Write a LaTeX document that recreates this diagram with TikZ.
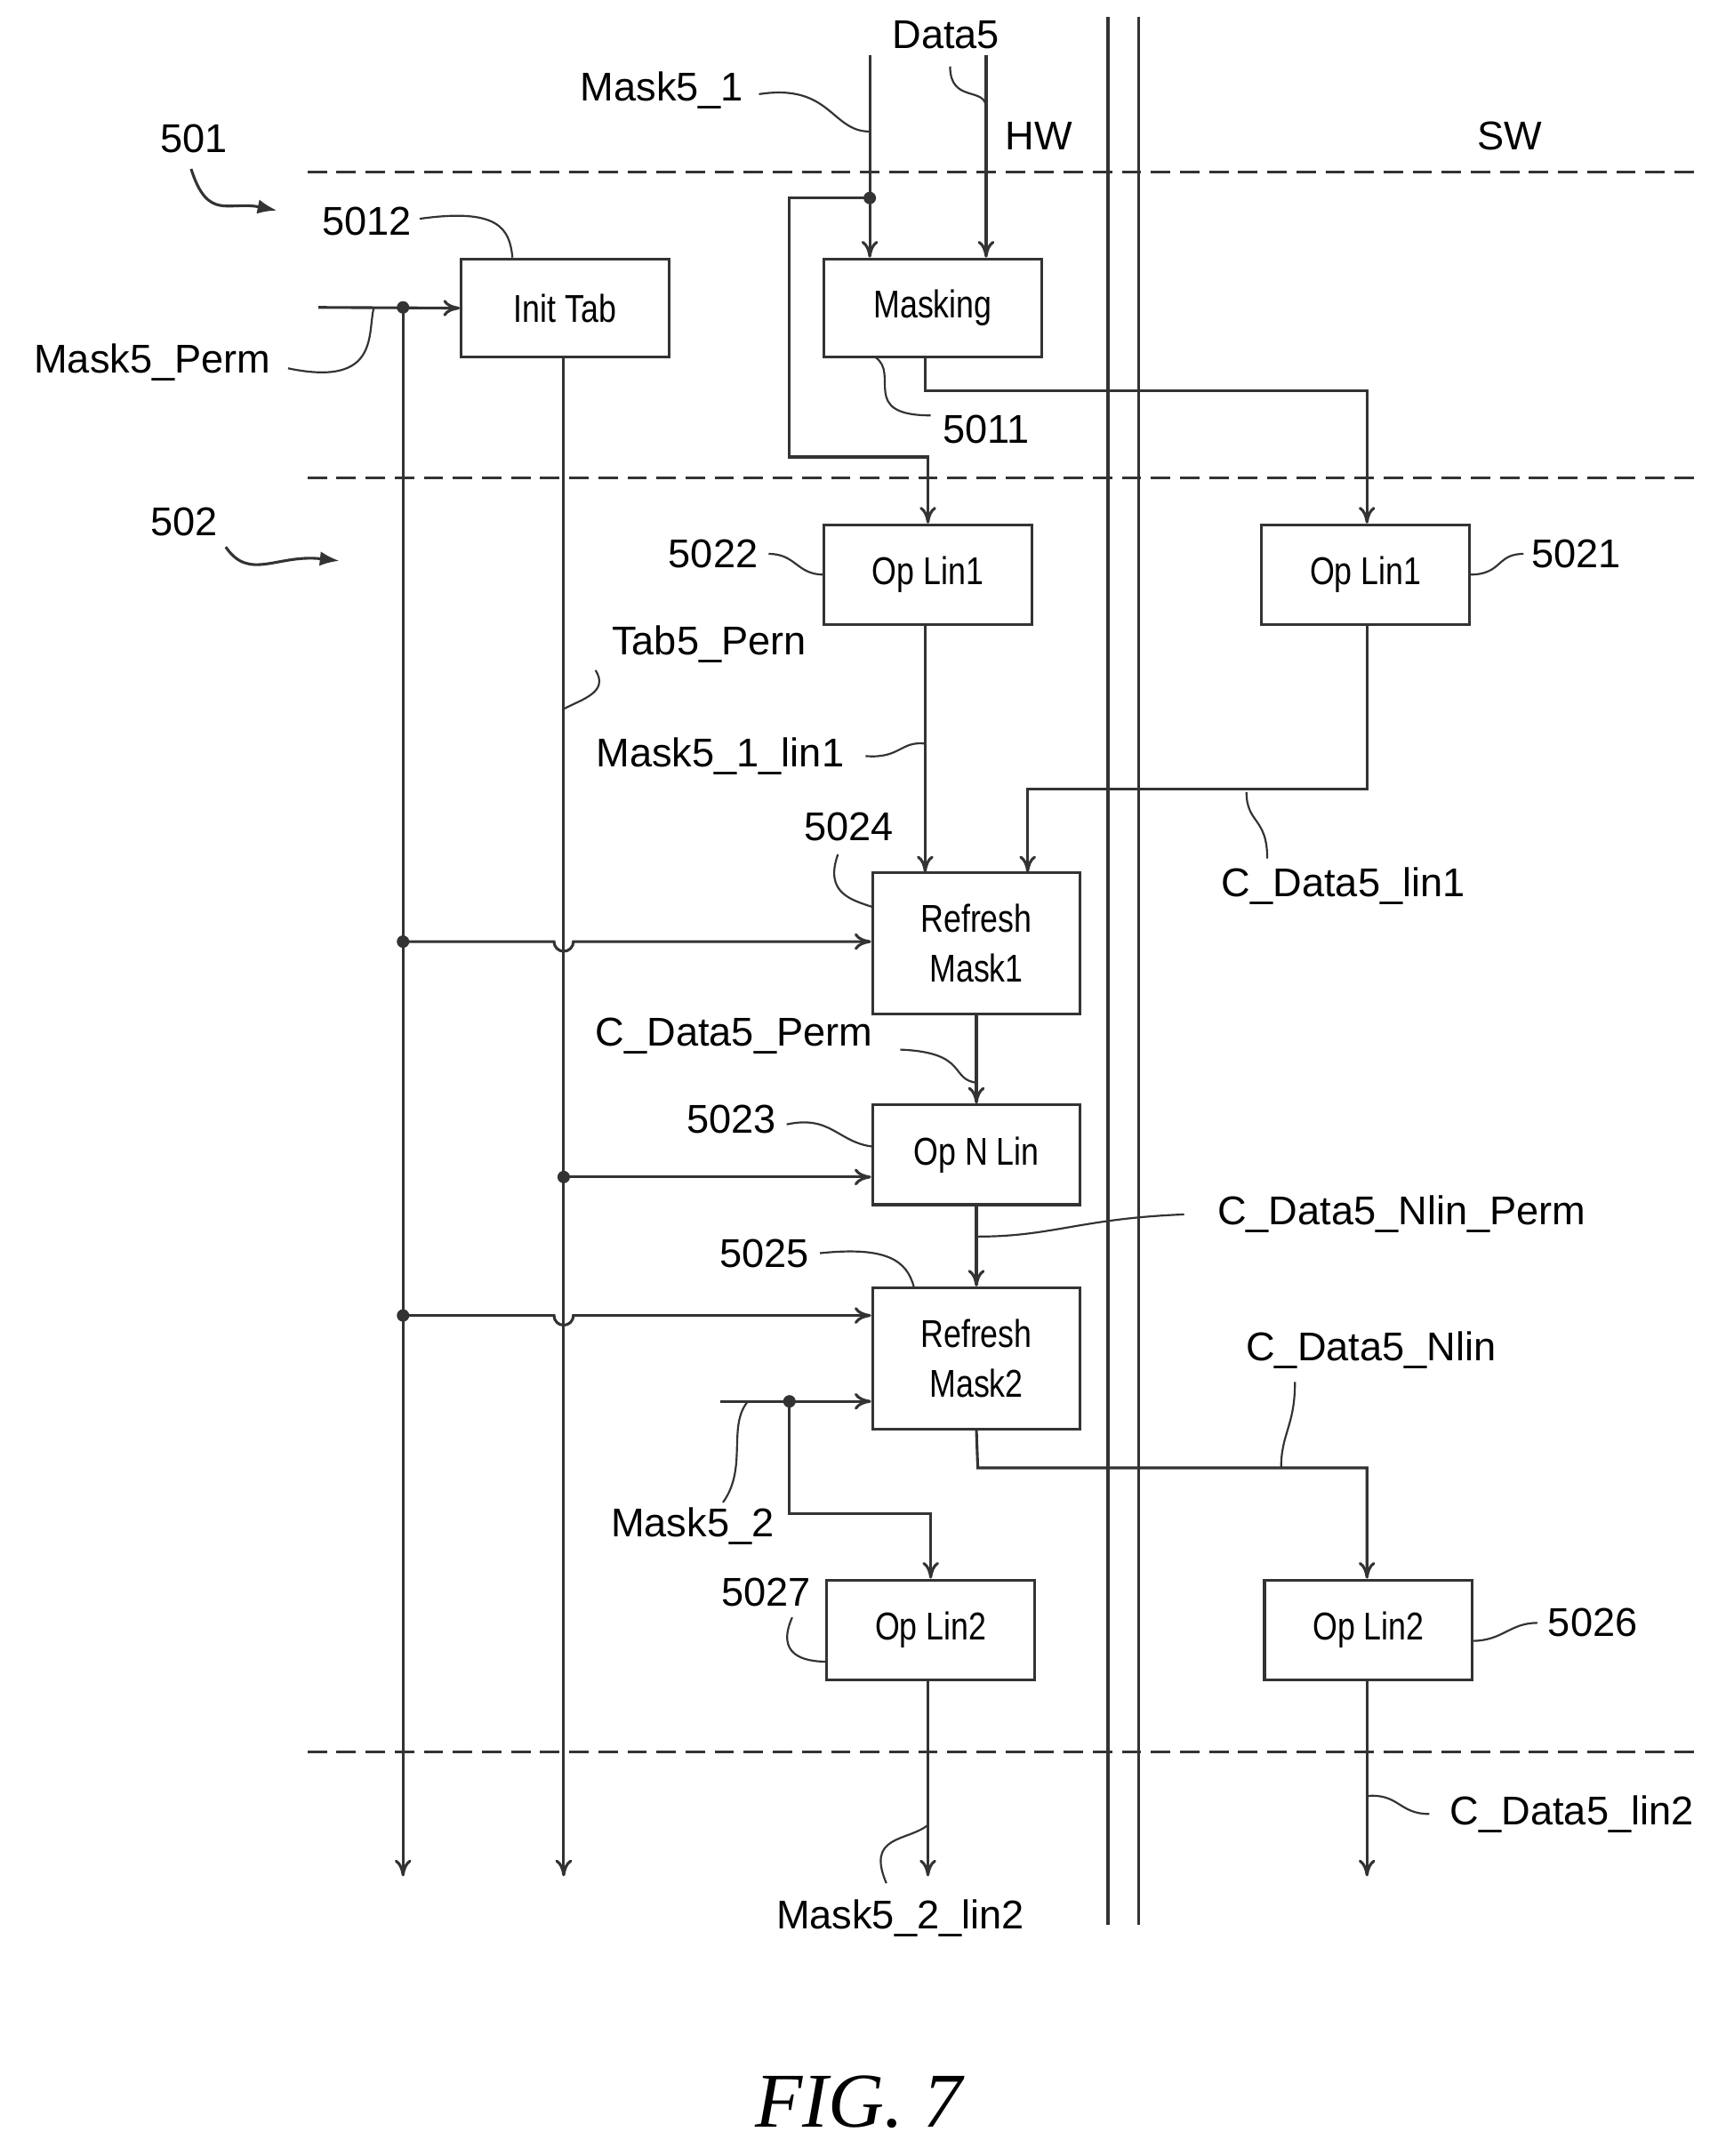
\documentclass[tikz,border=0pt]{standalone}
\usepackage{fontspec}
\setmainfont{Liberation Sans}
\usetikzlibrary{arrows.meta}
\begin{document}
\begin{tikzpicture}[x=1pt,y=-1pt,
  ln/.style={line width=2pt,draw=black!80},
  ar/.style={ln,-{To[length=12pt,width=12pt]}},
  box/.style={ln,fill=white},
  bt/.style={font=\fontsize{28}{32}\selectfont,xscale=0.82,align=center},
  lb/.style={font=\fontsize{29}{32}\selectfont},
  ld/.style={line width=1.4pt,draw=black!80},
  dsh/.style={line width=2pt,draw=black!80,dash pattern=on 14pt off 7pt},
  dot/.style={circle,fill=black!80,inner sep=0,minimum size=9pt}]
\useasboundingbox (0,0) rectangle (1240,1557);
% dashed separators
\draw[dsh] (222,124) -- (1228,124);
\draw[dsh] (222,345) -- (1228,345);
\draw[dsh] (222,1265) -- (1228,1265);
% HW/SW wall
\draw[ln] (800,12) -- (800,1390);
\draw[ln] (822,12) -- (822,1390);
\node[lb] (hw) at (750,98) {HW};
\node[lb] (sw) at (1090,98) {SW};
\node[lb] (n501) at (140,100) {501};
\node[lb] (n502) at (133,377) {502};
\coordinate (a1) at (200,152);
\coordinate (a2) at (245,405);
\draw[ln,-{Latex[length=14pt]}] (138,122) .. controls (150,160) and (165,145) .. (a1);
\draw[ln,-{Latex[length=14pt]}] (163,395) .. controls (180,420) and (200,400) .. (a2);
% boxes
\node[box,minimum width=150pt,minimum height=71pt] (init) at (408,222.5) {};
\node[bt] at (init) {Init Tab};
\node[box,minimum width=157pt,minimum height=71pt] (mask) at (673.5,222.5) {};
\node[bt] at (mask) {Masking};
\node[box,minimum width=150pt,minimum height=72pt] (ol1a) at (670,415) {};
\node[bt] at (ol1a) {Op Lin1};
\node[box,minimum width=150pt,minimum height=72pt] (ol1b) at (986,415) {};
\node[bt] at (ol1b) {Op Lin1};
\node[box,minimum width=150pt,minimum height=102pt] (rm1) at (705,681) {};
\node[bt] at (rm1) {Refresh\\[4pt]Mask1};
\node[box,minimum width=150pt,minimum height=72pt] (onl) at (705,834) {};
\node[bt] at (onl) {Op N Lin};
\node[box,minimum width=150pt,minimum height=102pt] (rm2) at (705,981) {};
\node[bt] at (rm2) {Refresh\\[4pt]Mask2};
\node[box,minimum width=150pt,minimum height=72pt] (ol2a) at (672,1177) {};
\node[bt] at (ol2a) {Op Lin2};
\node[box,minimum width=150pt,minimum height=72pt] (ol2b) at (988,1177) {};
\node[bt] at (ol2b) {Op Lin2};
% coordinates
\coordinate (m1top) at (628,40);
\coordinate (d5top) at (712,40);
\node[dot] (dm1) at (628,143) {};
\node[dot] (dperm) at (291,222) {};
\coordinate (permin) at (230,222);
\node[dot] (dp1) at (291,680) {};
\node[dot] (dp2) at (291,950) {};
\node[dot] (dt) at (407,850) {};
\coordinate (mask2in) at (520,1012);
\node[dot] (dm2) at (570,1012) {};
\coordinate (e1) at (291,1355);
\coordinate (e2) at (407,1355);
\coordinate (e3) at (670,1355);
\coordinate (e4) at (987,1355);
% connectors
\draw[ar] (m1top) -- (dm1.center) -- (mask.north -| dm1);
\draw[ar] (d5top) -- (mask.north -| d5top);
\draw[ar] (dm1.center) -| (570,330) -| (ol1a.north);
\draw[ar] (668,258) -- (668,282) -| (ol1b.north -| e4);
\draw[ar] (permin) -- (init.west);
\draw[ar] (dperm.center) -- (e1);
\draw[ar] (init.south -| e2) -- (e2);
\draw[ar] (dp1.center) -- (400,680) arc (180:0:7) -- (rm1.west |- dp1);
\draw[ar] (dp2.center) -- (400,950) arc (180:0:7) -- (rm2.west |- dp2);
\draw[ar] (dt.center) -- (onl.west |- dt);
\draw[ar] (668,451) -- (668,630);
\draw[ar] (ol1b.south -| e4) -- (987,570) -| (742,630);
\draw[ar] (rm1.south) -- (onl.north);
\draw[ar] (onl.south) -- (rm2.north);
\draw[ar] (rm2.south) -- (706,1060) -| (ol2b.north -| e4);
\draw[ar] (mask2in) -- (rm2.west |- mask2in);
\draw[ar] (dm2.center) -- (570,1093) -| (ol2a.north);
\draw[ar] (ol2a.south -| e3) -- (e3);
\draw[ar] (ol2b.south -| e4) -- (e4);
% labels
\node[lb] (l1) at (478,65) {Mask5\_1};
\draw[ld] (548,68) .. controls (600,60) and (600,95) .. (628,95);
\node[lb] (l2) at (683,25) {Data5};
\draw[ld] (686,48) .. controls (686,75) and (712,62) .. (712,78);
\node[lb] (l3) at (265,160) {5012};
\draw[ld] (303,158) .. controls (360,150) and (368,165) .. (370,186);
\node[lb] (l4) at (110,262) {Mask5\_Perm};
\draw[ld] (208,266) .. controls (275,280) and (265,240) .. (270,222);
\node[lb] (l5) at (712,310) {5011};
\draw[ld] (672,300) .. controls (620,300) and (650,270) .. (632,258);
\node[lb] (l6) at (515,400) {5022};
\draw[ld] (555,400) .. controls (575,400) and (575,415) .. (595,415);
\node[lb] (l7) at (1138,400) {5021};
\draw[ld] (1061,415) .. controls (1085,415) and (1080,400) .. (1100,400);
\node[lb] (l8) at (512,465) {Tab5\_Pern};
\draw[ld] (430,484) .. controls (440,500) and (420,505) .. (407,512);
\node[lb] (l9) at (520,546) {Mask5\_1\_lin1};
\draw[ld] (625,546) .. controls (650,548) and (650,535) .. (668,537);
\node[lb] (l10) at (970,640) {C\_Data5\_lin1};
\draw[ld] (915,620) .. controls (915,590) and (900,595) .. (900,572);
\node[lb] (l11) at (613,597) {5024};
\draw[ld] (605,617) .. controls (595,645) and (615,650) .. (630,655);
\node[lb] (l12) at (530,748) {C\_Data5\_Perm};
\draw[ld] (650,758) .. controls (700,760) and (685,780) .. (706,782);
\node[lb] (l13) at (528,808) {5023};
\draw[ld] (568,812) .. controls (600,805) and (605,825) .. (630,828);
\node[lb] (l14) at (1012,877) {C\_Data5\_Nlin\_Perm};
\draw[ld] (855,877) .. controls (780,880) and (760,893) .. (706,893);
\node[lb] (l15) at (552,905) {5025};
\draw[ld] (592,905) .. controls (640,900) and (655,910) .. (660,930);
\node[lb] (l16) at (990,975) {C\_Data5\_Nlin};
\draw[ld] (935,998) .. controls (935,1030) and (925,1035) .. (925,1060);
\node[lb] (l17) at (500,1102) {Mask5\_2};
\draw[ld] (522,1085) .. controls (540,1060) and (525,1030) .. (540,1012);
\node[lb] (l18) at (553,1150) {5027};
\draw[ld] (572,1168) .. controls (560,1195) and (580,1200) .. (597,1200);
\node[lb] (l19) at (1150,1172) {5026};
\draw[ld] (1063,1185) .. controls (1085,1185) and (1090,1172) .. (1110,1172);
\node[lb] (l20) at (1135,1310) {C\_Data5\_lin2};
\draw[ld] (1032,1310) .. controls (1010,1310) and (1010,1295) .. (987,1297);
\node[lb] (l21) at (650,1385) {Mask5\_2\_lin2};
\draw[ld] (640,1360) .. controls (625,1325) and (655,1330) .. (670,1318);
\node[font=\fontsize{56}{60}\selectfont\itshape\fontspec{Liberation Serif}] (fig) at (620,1518) {FIG. 7};
\end{tikzpicture}
\end{document}
